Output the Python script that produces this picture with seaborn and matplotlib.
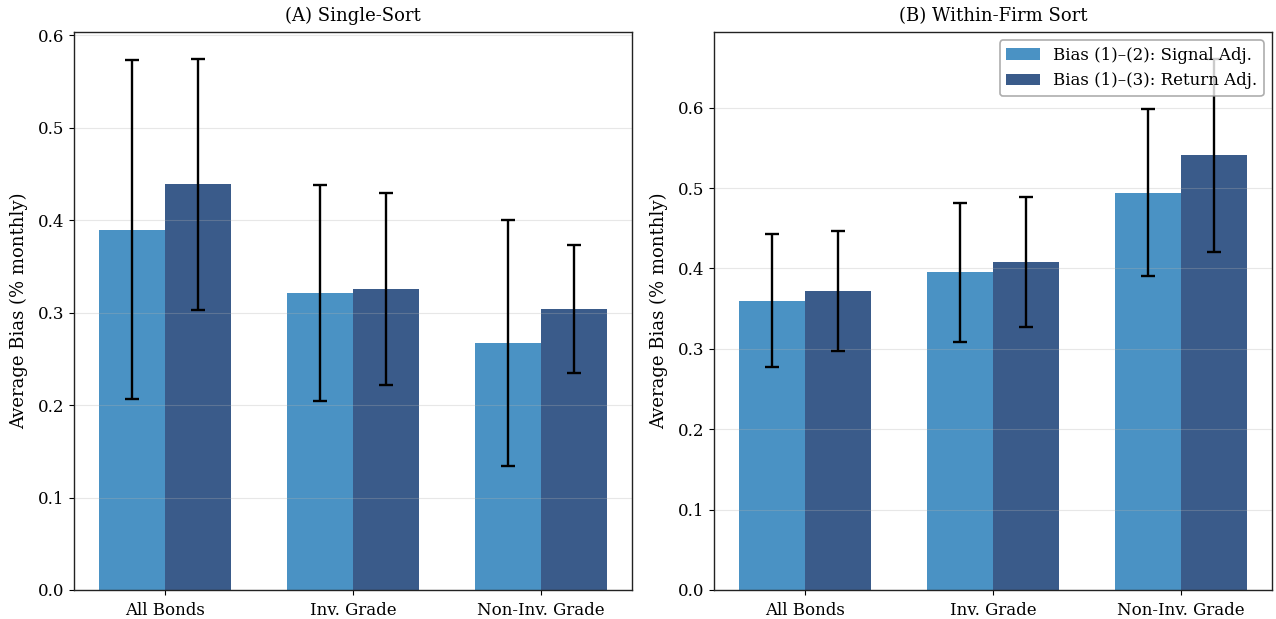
import numpy as np
import pandas as pd
import matplotlib
matplotlib.use("Agg")
import matplotlib.pyplot as plt
import seaborn as sns

plt.rcParams["font.family"] = ["DejaVu Serif"]

categories = ["All Bonds", "Inv. Grade", "Non-Inv. Grade"]
series_names = ["Bias (1)–(2): Signal Adj.", "Bias (1)–(3): Return Adj."]
panel_titles = ["(A) Single-Sort", "(B) Within-Firm Sort"]

# Panel A: single-sort bias estimates and confidence half-widths
single_signal = [0.390, 0.321, 0.267]
single_signal_err = [0.183, 0.117, 0.133]
single_return = [0.439, 0.326, 0.304]
single_return_err = [0.136, 0.104, 0.069]

# Panel B: within-firm sort bias estimates and confidence half-widths
within_signal = [0.360, 0.395, 0.494]
within_signal_err = [0.083, 0.086, 0.104]
within_return = [0.372, 0.408, 0.541]
within_return_err = [0.075, 0.081, 0.120]

colors = ["#4A92C4", "#3A5B8A"]


def make_frame(sig, ret):
    return pd.DataFrame({
        "category": categories * 2,
        "series": [series_names[0]] * 3 + [series_names[1]] * 3,
        "bias": list(sig) + list(ret),
    })


panels = [
    (make_frame(single_signal, single_return), [single_signal_err, single_return_err]),
    (make_frame(within_signal, within_return), [within_signal_err, within_return_err]),
]

fig, axes = plt.subplots(1, 2, figsize=(12.76, 6.19), dpi=100)
fig.subplots_adjust(left=0.058, right=0.9969, top=0.9483, bottom=0.0469, wspace=0.147)

for i, (ax, (df, errs)) in enumerate(zip(axes, panels)):
    sns.barplot(data=df, x="category", y="bias", hue="series",
                order=categories, hue_order=series_names,
                palette=colors, width=0.7, errorbar=None, saturation=1,
                legend=(i == 1), ax=ax)
    for container, err in zip(ax.containers, errs):
        xs = [p.get_x() + p.get_width() / 2 for p in container.patches]
        ys = [p.get_height() for p in container.patches]
        ax.errorbar(xs, ys, yerr=err, fmt="none", ecolor="black",
                    elinewidth=1.7, capsize=5, capthick=1.7, zorder=3)
    ax.set_title(panel_titles[i], fontsize=13, pad=8)
    ax.set_xlabel("")
    ax.set_ylabel("Average Bias (% monthly)", fontsize=13, labelpad=7)
    ax.tick_params(axis="both", labelsize=12)
    ax.tick_params(axis="x", pad=5)
    ax.grid(axis="y", alpha=0.3)
    ax.margins(y=0.05)
    ax.set_ylim(bottom=0)
    for s in ax.spines.values():
        s.set_color("#222222")
        s.set_linewidth(1.0)
    if i == 1:
        leg = ax.legend(loc="upper right", fontsize=12, title=None)
        leg.get_frame().set_edgecolor("#999999")
        leg.get_frame().set_linewidth(1.2)

fig.savefig("out.png", dpi=100)
